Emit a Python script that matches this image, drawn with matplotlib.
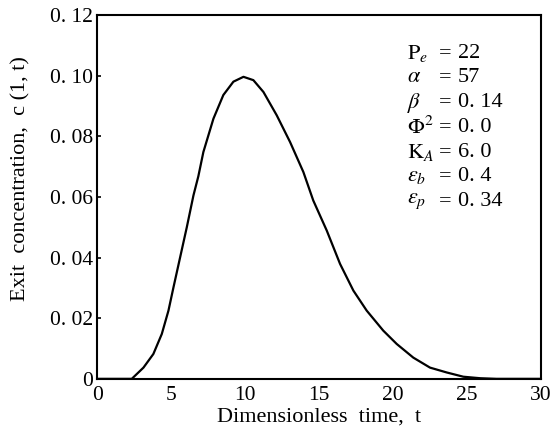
import matplotlib
matplotlib.use("Agg")
import matplotlib.pyplot as plt

# Data (dimensionless time vs exit concentration)
t = [0.0, 2.34, 3.13, 3.80, 4.37, 4.82, 5.16, 5.61, 6.06, 6.51, 6.84, 7.18,
     7.86, 8.53, 9.21, 9.89, 10.56, 11.24, 12.14, 13.04, 13.94, 14.61,
     15.52, 16.42, 17.32, 18.22, 19.34, 20.25, 21.37, 22.5, 23.63, 24.75,
     25.9, 27.0, 30.0]
c = [0.0, 0.0, 0.0037, 0.0082, 0.0148, 0.0225, 0.0302, 0.0401, 0.0500,
     0.0605, 0.0668, 0.0748, 0.0858, 0.0936, 0.0980, 0.0996, 0.0985, 0.0946,
     0.0869, 0.0781, 0.0682, 0.0588, 0.0489, 0.0379, 0.0291, 0.0225, 0.0159,
     0.0115, 0.0070, 0.0037, 0.0021, 0.0007, 0.0002, 0.0, 0.0]

x_ticks = [0, 5, 10, 15, 20, 25, 30]
y_ticks = [0, 0.02, 0.04, 0.06, 0.08, 0.10, 0.12]
y_tick_labels = ["0", "0. 02", "0. 04", "0. 06", "0. 08", "0. 10", "0. 12"]

param_names = [r"$\mathrm{P}_{e}$", r"$\alpha$", r"$\beta$", r"$\mathit{\Phi}^{2}$",
               r"$\mathrm{K}_{A}$", r"$\varepsilon_{b}$", r"$\varepsilon_{p}$"]
param_values = ["22", "57", "0. 14", "0. 0", "6. 0", "0. 4", "0. 34"]

plt.rcParams['font.family'] = ['Liberation Serif', 'DejaVu Serif']
plt.rcParams['mathtext.fontset'] = 'stix'

fig = plt.figure(figsize=(5.52, 4.40), dpi=100)
ax = fig.add_axes([0.176, 0.139, 0.804, 0.827])

ax.plot(t, c, color='black', lw=1.6)
ax.set_xlim(0, 30)
ax.set_ylim(0, 0.12)
ax.set_xticks(x_ticks)
ax.set_xticklabels([str(v) for v in x_ticks], fontsize=15.5)
ax.set_yticks(y_ticks)
ax.set_yticklabels(y_tick_labels, fontsize=15.5)
ax.tick_params(direction='in', length=3, width=1.2)
ax.tick_params(axis='x', pad=5, length=0)
ax.tick_params(axis='y', pad=3)
for s in ax.spines.values():
    s.set_linewidth(1.5)

ax.set_xlabel("Dimensionless  time,  t", fontsize=16, labelpad=2)
ax.set_ylabel("Exit  concentration,  c (1, t)", fontsize=16)
ax.yaxis.set_label_coords(-0.15, 0.55)

y0 = 0.895
dy = 0.068
for i, (n, v) in enumerate(zip(param_names, param_values)):
    y = y0 - i * dy
    ax.text(0.698, y, n, transform=ax.transAxes, fontsize=16,
            ha='left', va='center')
    ax.text(0.770, y, "=", transform=ax.transAxes, fontsize=16,
            ha='left', va='center')
    ax.text(0.812, y, v, transform=ax.transAxes, fontsize=16,
            ha='left', va='center')

fig.savefig("out.png", dpi=100)
